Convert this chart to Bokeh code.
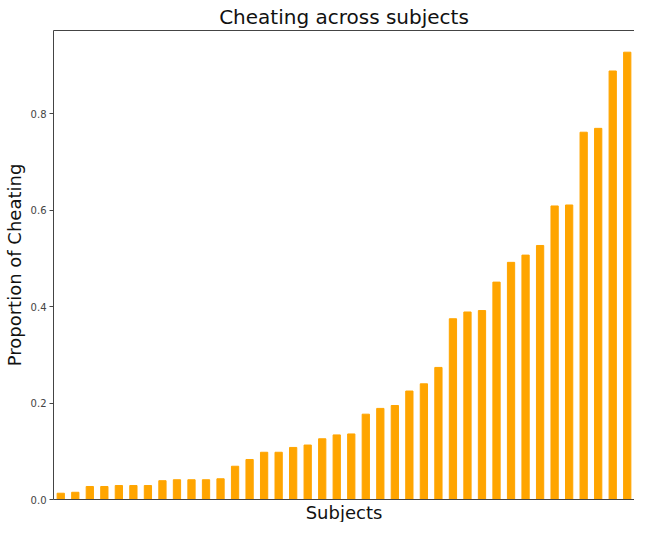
from bokeh.plotting import figure
from bokeh.models import Range1d, FixedTicker, NumeralTickFormatter, LinearAxis, ColumnDataSource, Title
from bokeh.embed import file_html
from bokeh.resources import INLINE

# Proportion of cheating per subject, sorted ascending
proportions = [0.013, 0.015, 0.027, 0.027, 0.029, 0.029, 0.029, 0.039, 0.041, 0.041,
               0.041, 0.043, 0.069, 0.083, 0.098, 0.098, 0.108, 0.113, 0.126, 0.134,
               0.136, 0.177, 0.189, 0.195, 0.225, 0.240, 0.274, 0.375, 0.389, 0.392,
               0.451, 0.492, 0.507, 0.527, 0.609, 0.611, 0.762, 0.770, 0.889, 0.928]
subject_index = list(range(len(proportions)))
y_ticks = [0.0, 0.2, 0.4, 0.6, 0.8]

source = ColumnDataSource(data=dict(x=subject_index, top=proportions))

p = figure(width=634, height=522, output_backend="svg", toolbar_location=None,
           x_range=Range1d(-0.5, len(proportions) - 0.5), y_range=Range1d(0, 0.973),
           min_border_left=0, min_border_right=0, min_border_top=0, min_border_bottom=0)

p.vbar(x="x", top="top", width=0.5, bottom=0, source=source, color="#FFA500")

p.title.text = "Cheating across subjects"
p.title.align = "center"
p.title.text_font = "DejaVu Sans"
p.title.text_font_size = "20px"
p.title.text_font_style = "normal"
p.title.text_color = "#111111"
p.title.standoff = 4

p.xgrid.visible = False
p.ygrid.visible = False
p.outline_line_color = None

ax = p.xaxis[0]
ax.ticker = FixedTicker(ticks=[])
ax.major_label_text_font_size = "0px"
ax.major_tick_out = 0
ax.major_tick_in = 0
ax.minor_tick_out = 0
ax.minor_tick_in = 0
ax.major_label_standoff = 0
ax.axis_line_color = "#444444"

x_label = Title(text="Subjects", align="center", text_font="DejaVu Sans",
                text_font_size="18px", text_font_style="normal", text_color="#111111",
                standoff=0, offset=0)
p.add_layout(x_label, "below")

ay = p.yaxis[0]
ay.ticker = FixedTicker(ticks=y_ticks)
ay.formatter = NumeralTickFormatter(format="0.0")
ay.axis_label = "Proportion of Cheating"
ay.axis_label_text_font = "DejaVu Sans"
ay.axis_label_text_font_size = "18px"
ay.axis_label_text_font_style = "normal"
ay.axis_label_text_color = "#111111"
ay.axis_label_standoff = 3
ay.major_label_text_font = "DejaVu Sans"
ay.major_label_text_font_size = "10px"
ay.major_label_text_color = "#444444"
ay.major_label_standoff = 3
ay.major_tick_out = 4
ay.major_tick_in = 0
ay.minor_tick_out = 0
ay.minor_tick_in = 0
ay.axis_line_color = "#444444"
ay.major_tick_line_color = "#444444"

top_axis = LinearAxis(ticker=FixedTicker(ticks=[]), major_label_text_font_size="0px",
                      major_tick_out=0, major_tick_in=0, minor_tick_out=0, minor_tick_in=0,
                      major_label_standoff=0, axis_line_color="#444444")
p.add_layout(top_axis, "above")

open("out.html", "w").write(file_html(p, INLINE))
